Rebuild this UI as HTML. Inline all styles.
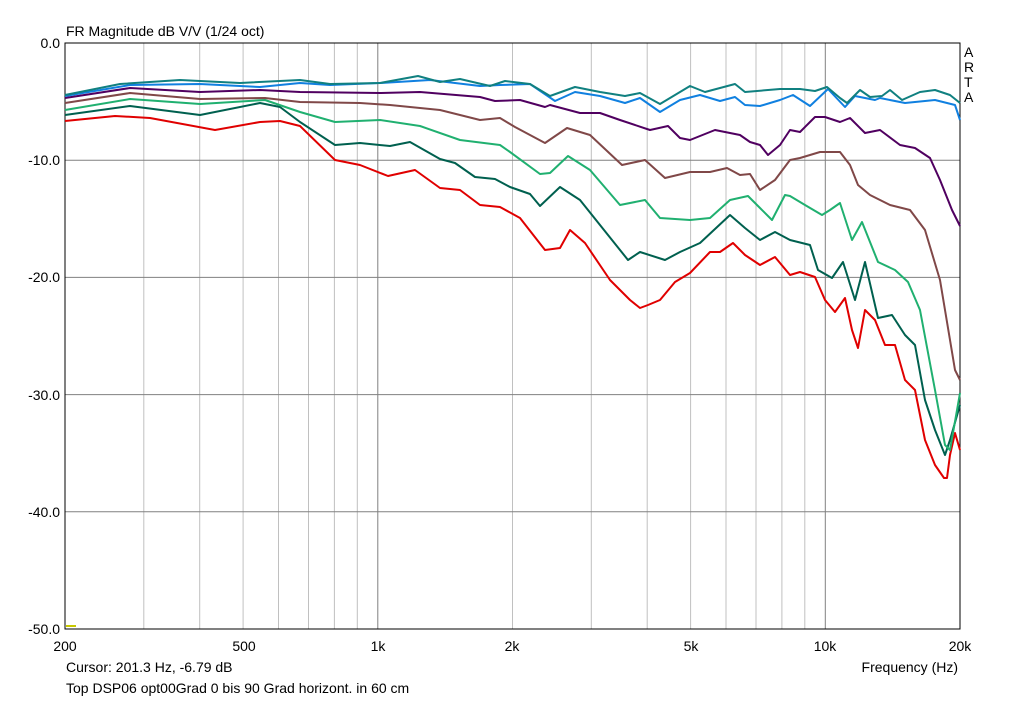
<!DOCTYPE html><html><head><style>body{margin:0;background:#fff}svg{display:block;font-family:"Liberation Sans",sans-serif}</style></head><body>
<svg width="1024" height="701" viewBox="0 0 1024 701">
<rect width="1024" height="701" fill="#fff"/>
<g stroke="#c0c0c0" stroke-width="1">
<line x1="143.8" y1="43" x2="143.8" y2="629"/><line x1="199.7" y1="43" x2="199.7" y2="629"/><line x1="243.1" y1="43" x2="243.1" y2="629"/><line x1="278.5" y1="43" x2="278.5" y2="629"/><line x1="308.5" y1="43" x2="308.5" y2="629"/><line x1="334.4" y1="43" x2="334.4" y2="629"/><line x1="357.3" y1="43" x2="357.3" y2="629"/>
<line x1="512.5" y1="43" x2="512.5" y2="629"/><line x1="591.3" y1="43" x2="591.3" y2="629"/><line x1="647.2" y1="43" x2="647.2" y2="629"/><line x1="690.6" y1="43" x2="690.6" y2="629"/><line x1="726" y1="43" x2="726" y2="629"/><line x1="756" y1="43" x2="756" y2="629"/><line x1="781.9" y1="43" x2="781.9" y2="629"/><line x1="804.8" y1="43" x2="804.8" y2="629"/>
</g>
<g stroke="#808080" stroke-width="1">
<line x1="377.8" y1="43" x2="377.8" y2="629"/><line x1="825.3" y1="43" x2="825.3" y2="629"/>
<line x1="65" y1="160.2" x2="960" y2="160.2"/><line x1="65" y1="277.4" x2="960" y2="277.4"/><line x1="65" y1="394.6" x2="960" y2="394.6"/><line x1="65" y1="511.8" x2="960" y2="511.8"/>
</g>
<rect x="65" y="43" width="895" height="586" fill="none" stroke="#000" stroke-width="1"/>
<line x1="66" y1="626" x2="76" y2="626" stroke="#c8c800" stroke-width="2"/>
<g fill="none" stroke-width="2" stroke-linejoin="round">
<polyline stroke="#e00000" points="65,121 115,116 150,118 215,130 260,122 280,121 300,126 335,160 360,165 388,176 415,170 440,188 460,190 480,205 500,207 520,218 545,250 560,248 570,230 585,243 610,280 630,300 640,308 648,305 660,300 675,282 690,273 710,252 720,252 733,243 745,255 760,265 775,257 790,275 800,272 815,277 825,300 835,312 845,298 852,330 858,348 865,310 875,320 885,345 895,345 905,380 915,390 925,440 935,465 944,478 947,478 950,455 955,433 960,450"/>
<polyline stroke="#00604f" points="65,115 130,106 200,115 260,103 280,107 300,122 335,145 360,143 390,146 410,142 440,159 455,163 475,177 495,179 510,187 530,194 540,206 560,187 580,200 600,225 628,260 640,252 665,260 680,252 700,243 730,215 745,228 760,240 775,232 790,240 810,245 818,270 832,278 843,262 855,300 865,262 878,318 892,315 905,335 915,345 925,400 935,430 945,455 950,440 960,405"/>
<polyline stroke="#20b070" points="65,110 130,99 200,104 265,100 300,112 335,122 380,120 420,126 460,140 500,145 510,152 540,174 550,173 568,156 590,170 620,205 645,200 660,218 690,220 710,218 730,200 748,196 760,208 772,220 785,195 790,196 805,205 822,215 830,210 840,203 852,240 862,222 878,262 895,270 908,282 920,310 935,390 945,445 950,450 960,393"/>
<polyline stroke="#804848" points="65,103 130,93 200,99 265,98 300,102 360,103 390,105 440,110 480,120 500,118 515,127 545,143 567,128 590,135 622,165 645,160 665,178 690,172 710,172 727,168 740,175 750,174 760,190 775,180 790,160 800,158 820,152 840,152 850,165 858,185 870,195 890,205 910,210 925,230 940,280 950,340 955,370 960,380"/>
<polyline stroke="#500060" points="65,98 130,88 200,92 260,90 300,92 380,93 420,92 480,97 495,101 520,100 545,107 550,105 580,113 600,113 620,120 650,130 668,126 680,138 690,140 715,130 740,135 750,142 760,145 768,155 780,145 790,130 800,132 815,117 825,117 840,122 850,118 865,133 880,130 900,145 915,148 930,158 940,180 952,210 960,226"/>
<polyline stroke="#1080e0" points="65,96 130,85 200,84 260,87 300,83 330,85 380,83 430,80 480,86 500,85 530,84 555,101 575,92 600,96 625,103 640,98 660,112 680,100 700,95 720,101 735,97 745,105 760,106 780,100 793,95 810,106 828,89 845,107 855,96 875,100 880,98 905,103 935,100 955,105 960,120"/>
<polyline stroke="#108080" points="65,95 120,84 180,80 240,83 300,80 330,84 380,83 418,76 440,82 460,79 490,86 505,81 530,84 550,96 575,87 600,92 625,96 640,93 660,104 690,86 705,92 735,84 745,92 780,89 800,89 815,91 827,87 840,98 847,103 860,90 870,97 882,96 890,90 902,100 920,92 935,90 950,95 960,103"/>
</g>
<g font-size="14" fill="#000">
<text x="66" y="36">FR Magnitude dB V/V (1/24 oct)</text>
<g text-anchor="end"><text x="60" y="48">0.0</text><text x="60" y="165">-10.0</text><text x="60" y="282">-20.0</text><text x="60" y="400">-30.0</text><text x="60" y="517">-40.0</text><text x="60" y="634">-50.0</text></g>
<g text-anchor="middle"><text x="65" y="651">200</text><text x="244" y="651">500</text><text x="378" y="651">1k</text><text x="512" y="651">2k</text><text x="691" y="651">5k</text><text x="825" y="651">10k</text><text x="960" y="651">20k</text></g>
<text x="964" y="57">A</text><text x="964" y="72">R</text><text x="964" y="87">T</text><text x="964" y="102">A</text>
<text x="66" y="672">Cursor: 201.3 Hz, -6.79 dB</text>
<text x="958" y="672" text-anchor="end">Frequency (Hz)</text>
<text x="66" y="693">Top DSP06 opt00Grad 0 bis 90 Grad horizont. in 60 cm</text>
</g>
</svg></body></html>
